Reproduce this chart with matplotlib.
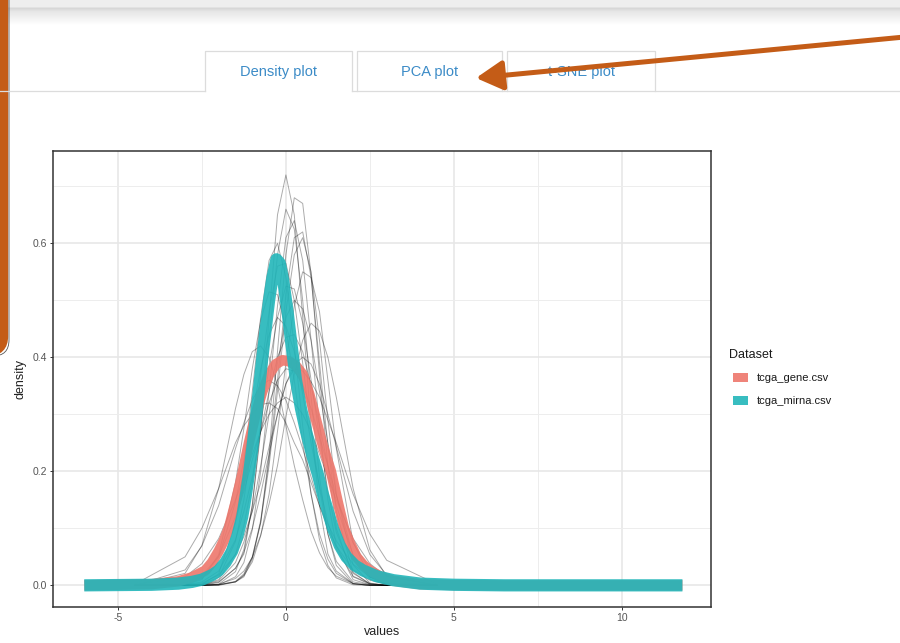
import numpy as np
import matplotlib.pyplot as plt
from matplotlib.patches import Rectangle, FancyBboxPatch

plt.rcParams['font.family'] = ['Liberation Sans', 'DejaVu Sans']
plt.rcParams['axes.unicode_minus'] = False

# ---- data ----
datasets = ['tcga_gene.csv', 'tcga_mirna.csv']
dataset_colors = ['#EE776C', '#22B6BA']
tab_labels = ['Density plot', 'PCA plot', 't-SNE plot']
x_ticks = [-5, 0, 5, 10]
y_ticks = [0.0, 0.2, 0.4, 0.6]

# per-sample densities (thin grey lines), sampled on a common grid of values
grid_x = [-4.5, -3.0, -2.5, -2.0, -1.5, -1.25, -1.0, -0.75, -0.5, -0.25, 0.0,
          0.25, 0.5, 0.75, 1.0, 1.25, 1.5, 2.0, 2.5, 3.0, 4.5]
sample_density = [
    [0, 0, 0, 0.005, 0.03, 0.055, 0.14, 0.28, 0.47, 0.65, 0.72, 0.65, 0.47, 0.28, 0.14, 0.055, 0.025, 0.003, 0, 0, 0],
    [0, 0, 0, 0.001, 0.006, 0.015, 0.046, 0.11, 0.23, 0.41, 0.58, 0.68, 0.67, 0.545, 0.37, 0.21, 0.10, 0.015, 0.002, 0, 0],
    [0, 0, 0, 0.001, 0.015, 0.04, 0.097, 0.20, 0.34, 0.49, 0.61, 0.64, 0.57, 0.43, 0.28, 0.15, 0.07, 0.01, 0.001, 0, 0],
    [0, 0, 0, 0.001, 0.007, 0.02, 0.05, 0.11, 0.21, 0.34, 0.48, 0.58, 0.61, 0.55, 0.43, 0.29, 0.16, 0.036, 0.004, 0, 0],
    [0, 0, 0.002, 0.014, 0.077, 0.15, 0.25, 0.37, 0.48, 0.56, 0.565, 0.50, 0.39, 0.27, 0.17, 0.09, 0.042, 0.006, 0.001, 0, 0],
    [0, 0, 0.001, 0.01, 0.055, 0.105, 0.18, 0.28, 0.385, 0.47, 0.525, 0.52, 0.46, 0.36, 0.26, 0.165, 0.093, 0.021, 0.003, 0, 0],
    [0, 0, 0.001, 0.008, 0.04, 0.076, 0.13, 0.21, 0.30, 0.39, 0.47, 0.50, 0.485, 0.43, 0.34, 0.25, 0.16, 0.052, 0.011, 0.002, 0],
    [0, 0.015, 0.038, 0.082, 0.15, 0.19, 0.23, 0.27, 0.30, 0.32, 0.33, 0.32, 0.30, 0.27, 0.23, 0.19, 0.15, 0.082, 0.038, 0.015, 0],
    [0, 0.027, 0.069, 0.14, 0.24, 0.285, 0.325, 0.35, 0.36, 0.35, 0.325, 0.285, 0.24, 0.19, 0.14, 0.10, 0.069, 0.027, 0.009, 0.002, 0],
    [0.002, 0.05, 0.10, 0.17, 0.25, 0.28, 0.30, 0.317, 0.32, 0.31, 0.285, 0.25, 0.22, 0.18, 0.14, 0.107, 0.078, 0.037, 0.015, 0.005, 0],
    [0, 0.001, 0.004, 0.018, 0.054, 0.086, 0.13, 0.18, 0.243, 0.30, 0.353, 0.388, 0.40, 0.388, 0.353, 0.30, 0.243, 0.13, 0.054, 0.018, 0],
    [0, 0, 0.002, 0.02, 0.11, 0.21, 0.34, 0.47, 0.57, 0.60, 0.54, 0.42, 0.28, 0.16, 0.08, 0.035, 0.013, 0.001, 0, 0, 0],
    [0, 0.001, 0.006, 0.025, 0.08, 0.13, 0.19, 0.27, 0.34, 0.40, 0.435, 0.44, 0.41, 0.35, 0.28, 0.21, 0.14, 0.053, 0.015, 0.003, 0],
    [0, 0, 0, 0.001, 0.006, 0.017, 0.041, 0.087, 0.16, 0.27, 0.39, 0.49, 0.55, 0.54, 0.48, 0.36, 0.24, 0.076, 0.014, 0.002, 0],
    [0, 0.002, 0.012, 0.05, 0.146, 0.22, 0.30, 0.38, 0.44, 0.47, 0.455, 0.41, 0.336, 0.25, 0.174, 0.11, 0.064, 0.016, 0.003, 0, 0],
    [0, 0, 0, 0.002, 0.024, 0.063, 0.14, 0.27, 0.43, 0.58, 0.66, 0.625, 0.50, 0.33, 0.19, 0.09, 0.035, 0.003, 0, 0, 0],
    [0, 0, 0.001, 0.006, 0.03, 0.058, 0.10, 0.16, 0.23, 0.30, 0.354, 0.38, 0.376, 0.357, 0.33, 0.29, 0.25, 0.16, 0.09, 0.044, 0.002],
    [0, 0.021, 0.07, 0.17, 0.31, 0.37, 0.41, 0.42, 0.40, 0.35, 0.28, 0.21, 0.15, 0.095, 0.057, 0.031, 0.016, 0.003, 0, 0, 0],
    [0, 0, 0, 0.002, 0.012, 0.025, 0.049, 0.088, 0.143, 0.21, 0.296, 0.37, 0.43, 0.46, 0.446, 0.40, 0.33, 0.17, 0.062, 0.016, 0],
    [0, 0, 0, 0, 0.006, 0.018, 0.049, 0.114, 0.22, 0.36, 0.51, 0.61, 0.62, 0.54, 0.39, 0.245, 0.13, 0.023, 0.002, 0, 0],
    [0, 0.001, 0.01, 0.054, 0.18, 0.275, 0.38, 0.465, 0.515, 0.51, 0.45, 0.36, 0.25, 0.16, 0.09, 0.046, 0.021, 0.003, 0, 0, 0],
    [0, 0.005, 0.017, 0.051, 0.12, 0.165, 0.22, 0.27, 0.32, 0.36, 0.38, 0.376, 0.353, 0.31, 0.26, 0.21, 0.157, 0.074, 0.028, 0.008, 0],
]

# pooled densities per dataset (thick coloured lines)
gene_x = [-6.0, -4.0, -3.2, -2.8, -2.4, -2.2, -2.0, -1.85, -1.7, -1.5, -1.28, -1.1, -0.9, -0.7, -0.5, -0.3,
          -0.1, 0.1, 0.3, 0.5, 0.7, 0.9, 1.1, 1.34, 1.55, 1.73, 1.9, 2.1, 2.3, 2.5, 2.8, 3.2, 4.0, 5.0, 6.5, 11.8]
gene_y = [0.0, 0.002, 0.007, 0.014, 0.026, 0.04, 0.06, 0.078, 0.10, 0.145, 0.20, 0.25, 0.30, 0.34, 0.37, 0.388,
          0.395, 0.393, 0.385, 0.37, 0.335, 0.29, 0.245, 0.20, 0.145, 0.10, 0.075, 0.05, 0.036, 0.026, 0.016, 0.008,
          0.002, 0.0005, 0.0, 0.0]
mirna_x = [-6.0, -4.0, -3.2, -2.8, -2.5, -2.2, -2.0, -1.8, -1.6, -1.45, -1.3, -1.2, -1.1, -1.0, -0.9, -0.8, -0.7,
           -0.6, -0.5, -0.4, -0.28, -0.18, -0.08, 0.05, 0.15, 0.3, 0.45, 0.6, 0.8, 0.95, 1.1, 1.25, 1.4, 1.6, 1.8,
           2.05, 2.3, 2.7, 3.2, 4.0, 5.0, 6.5, 11.8]
mirna_y = [0.0, 0.001, 0.003, 0.006, 0.010, 0.018, 0.026, 0.04, 0.06, 0.085, 0.12, 0.155, 0.195, 0.24, 0.29, 0.345,
           0.40, 0.45, 0.50, 0.54, 0.572, 0.565, 0.535, 0.48, 0.43, 0.36, 0.31, 0.27, 0.225, 0.195, 0.16, 0.13, 0.10,
           0.07, 0.05, 0.035, 0.026, 0.016, 0.009, 0.003, 0.001, 0.0, 0.0]

# ---- figure ----
W, H = 900, 643
fig = plt.figure(figsize=(9, 6.43), dpi=100)
fig.patch.set_facecolor('white')

# background layer in pixel units (app chrome around the plot)
bg = fig.add_axes([0, 0, 1, 1], zorder=0)
rows = np.arange(26)
shade = np.interp(rows, [0, 6, 8, 11, 25], [0.93, 0.93, 0.84, 0.90, 1.0])
bg.imshow(shade[:, None], extent=[0, W, 26, 0], cmap='gray', vmin=0, vmax=1, aspect='auto')

tab_pos = [(205, 352), (357, 502), (507, 655)]
for (x0, x1), lab in zip(tab_pos, tab_labels):
    bg.plot([x0, x0, x1, x1], [91, 51, 51, 91], color='#dcdcdc', lw=0.9)
    bg.text((x0 + x1) / 2, 72, lab, ha='center', va='center', fontsize=10.5, color='#3b8bc7')
bg.plot([0, 205], [91, 91], color='#dcdcdc', lw=0.9)
bg.plot([352, W], [91, 91], color='#dcdcdc', lw=0.9)

bg.annotate('', xy=(476, 78), xytext=(915, 36),
            arrowprops=dict(arrowstyle='-|>,head_length=0.9,head_width=0.5', color='#c45c17',
                            lw=3.6, mutation_scale=18, shrinkA=0, shrinkB=0))

bg.add_patch(FancyBboxPatch((-60, -60), 69, 416, boxstyle='round,pad=0,rounding_size=16',
                            fc='none', ec='#555555', lw=0.6))
bg.add_patch(FancyBboxPatch((-60, -60), 64, 412, boxstyle='round,pad=0,rounding_size=16',
                            fc='none', ec='#c45c17', lw=6))

# legend (ggplot style, to the right of the panel)
bg.text(729, 355, 'Dataset', fontsize=9, va='center', color='#1a1a1a')
for i, (name, col) in enumerate(zip(datasets, dataset_colors)):
    yc = 378 + i * 23
    bg.add_patch(Rectangle((733, yc - 5), 15, 9, color=col, alpha=0.9, lw=0))
    bg.text(757, yc, name, fontsize=8, va='center', color='#1a1a1a')

bg.set_xlim(0, W)
bg.set_ylim(H, 0)
bg.axis('off')

# density panel
ax = fig.add_axes([53 / W, 1 - 607 / H, (711 - 53) / W, (607 - 151) / H], zorder=2)
ax.set_facecolor('white')

for ys in sample_density:
    ax.plot(grid_x, ys, color='black', alpha=0.33, lw=0.7)
ax.plot(gene_x, gene_y, color=dataset_colors[0], lw=7.5, alpha=0.9,
        solid_capstyle='butt', solid_joinstyle='round')
ax.plot(mirna_x, mirna_y, color=dataset_colors[1], lw=8.8, alpha=0.9,
        solid_capstyle='butt', solid_joinstyle='round')

ax.set_xlim(-6.93, 12.65)
ax.set_ylim(-0.038, 0.762)
ax.set_xticks(x_ticks)
ax.set_xticks([-2.5, 2.5, 7.5], minor=True)
ax.set_yticks(y_ticks)
ax.set_yticks([0.1, 0.3, 0.5, 0.7], minor=True)
ax.set_yticklabels(['%.1f' % v for v in y_ticks])
ax.grid(which='major', color='#e6e6e6', lw=1.1)
ax.grid(which='minor', color='#ededed', lw=0.7)
ax.set_axisbelow(True)
ax.tick_params(which='minor', length=0)
ax.tick_params(which='major', length=2.5, width=0.7, color='#333333',
               labelsize=7.5, labelcolor='#555555', pad=1.5)
for s in ax.spines.values():
    s.set_color('#333333')
    s.set_linewidth(1.1)

ax.set_xlabel('values', fontsize=9, color='#222222')
ax.xaxis.set_label_coords(0.5, -0.041)
ax.set_ylabel('density', fontsize=9, color='#222222')
ax.yaxis.set_label_coords(-0.04, 0.5)

fig.savefig('out.png', dpi=100)
